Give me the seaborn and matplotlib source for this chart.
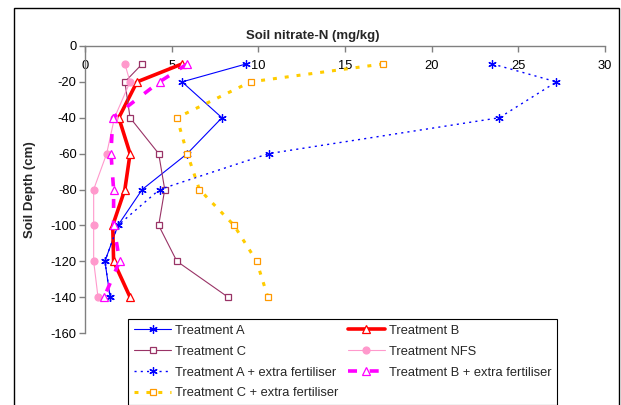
import matplotlib
matplotlib.use("Agg")
import matplotlib.pyplot as plt
import seaborn as sns
from matplotlib.patches import Rectangle

# ---- data ----
depth = [-10, -20, -40, -60, -80, -100, -120, -140]
trt_a = [9.3, 5.6, 7.9, 5.9, 3.3, 1.9, 1.15, 1.45]
trt_b = [5.6, 3.0, 1.95, 2.6, 2.3, 1.6, 1.65, 2.6]
trt_c = [3.3, 2.3, 2.6, 4.25, 4.6, 4.25, 5.3, 8.25]
trt_nfs = [2.3, 2.6, 1.7, 1.25, 0.5, 0.5, 0.5, 0.75]
trt_a_ef = [23.5, 27.2, 23.9, 10.6, 4.3, 1.9, 1.15, 1.45]
trt_b_ef = [5.9, 4.3, 1.6, 1.5, 1.65, 1.65, 2.0, 1.1]
trt_c_ef = [17.2, 9.55, 5.3, 5.9, 6.6, 8.6, 9.9, 10.55]
names = ["Treatment A", "Treatment B", "Treatment C", "Treatment NFS",
         "Treatment A + extra fertiliser", "Treatment B + extra fertiliser",
         "Treatment C + extra fertiliser"]
x_ticks = [0, 5, 10, 15, 20, 25, 30]
y_ticks = [0, -20, -40, -60, -80, -100, -120, -140, -160]

sns.set_style("white")
plt.rcParams["font.family"] = ["Liberation Sans", "DejaVu Sans"]

fig = plt.figure(figsize=(6.21, 4.05), dpi=100)
ax = fig.add_axes([85 / 621, 1 - 333 / 405, 520 / 621, 287 / 405])

star = (6, 2, 0)
styles = [
    dict(color="#0000ff", linewidth=0.8, linestyle="-", marker=star, markersize=6,
         markeredgecolor="#0000ff", markeredgewidth=0.9),
    dict(color="#ff0000", linewidth=2.6, linestyle="-", marker="^", markersize=6,
         markerfacecolor="white", markeredgecolor="#ff0000", markeredgewidth=0.9),
    dict(color="#993366", linewidth=0.8, linestyle="-", marker="s", markersize=5,
         markerfacecolor="white", markeredgecolor="#993366", markeredgewidth=0.9),
    dict(color="#ff99cc", linewidth=0.8, linestyle="-", marker="o", markersize=5,
         markerfacecolor="#ff99cc", markeredgecolor="#ff99cc", markeredgewidth=0.9),
    dict(color="#0000ff", linewidth=1.0, linestyle=(0, (1.5, 3)), marker=star, markersize=6,
         markeredgecolor="#0000ff", markeredgewidth=0.9),
    dict(color="#ff00ff", linewidth=2.6, linestyle=(0, (2.5, 3.5)), marker="^", markersize=6,
         markerfacecolor="white", markeredgecolor="#ff00ff", markeredgewidth=0.9),
    dict(color="#ffcc00", linewidth=2.2, linestyle=(0, (1.3, 2.6)), marker="s", markersize=5,
         markerfacecolor="white", markeredgecolor="#ff9900", markeredgewidth=0.9),
]
all_vals = [trt_a, trt_b, trt_c, trt_nfs, trt_a_ef, trt_b_ef, trt_c_ef]

for name, vals, st in zip(names, all_vals, styles):
    sns.lineplot(x=vals, y=depth, ax=ax, sort=False, estimator=None,
                 legend=False, label=name, **st)

ax.set_xlim(0, 30)
ax.set_ylim(-160, 0)
ax.set_xticks(x_ticks)
ax.set_yticks(y_ticks)
ax.set_xticklabels([str(v) for v in x_ticks])
ax.set_yticklabels([str(v) for v in y_ticks])

for s in ["right", "bottom"]:
    ax.spines[s].set_visible(False)
for s in ["left", "top"]:
    ax.spines[s].set_color("#808080")
    ax.spines[s].set_linewidth(1.0)

ax.xaxis.set_ticks_position("top")
ax.tick_params(axis="x", top=True, bottom=False, labeltop=True, labelbottom=False,
               direction="in", length=4, width=1, color="#808080",
               pad=-18.5, labelsize=9.3, labelcolor="black")
ax.tick_params(axis="y", left=True, direction="out", length=4, width=1,
               color="#808080", pad=2, labelsize=9.3, labelcolor="black")

ax.xaxis.set_label_position("top")
ax.set_xlabel("Soil nitrate-N (mg/kg)", fontsize=9.5, fontweight="bold")
ax.xaxis.set_label_coords((313 - 85) / 520, 1 + 10 / 287)
ax.xaxis.label.set_verticalalignment("center")
ax.set_ylabel("Soil Depth (cm)", fontsize=9.5, fontweight="bold")
ax.yaxis.set_label_coords((36 - 85) / 520, 0.5)

handles, labels = ax.get_legend_handles_labels()
order = [0, 2, 4, 6, 1, 3, 5]
leg = fig.legend([handles[i] for i in order], [labels[i] for i in order],
                 loc="upper left", bbox_to_anchor=(128 / 621, 1 - 319 / 405),
                 ncol=2, fontsize=9.3, frameon=True, fancybox=False, shadow=False,
                 edgecolor="black", framealpha=1, numpoints=1,
                 handlelength=2.9, handletextpad=0.3, columnspacing=0.7,
                 labelspacing=0.68, borderpad=0.45, borderaxespad=0)
leg.get_frame().set_linewidth(0.8)

border = Rectangle((14 / 621, -0.05), 605 / 621, 1.05 - 8 / 405,
                   transform=fig.transFigure, fill=False, edgecolor="black",
                   linewidth=1.0, clip_on=False)
fig.patches.append(border)

fig.savefig("out.png", dpi=100)
